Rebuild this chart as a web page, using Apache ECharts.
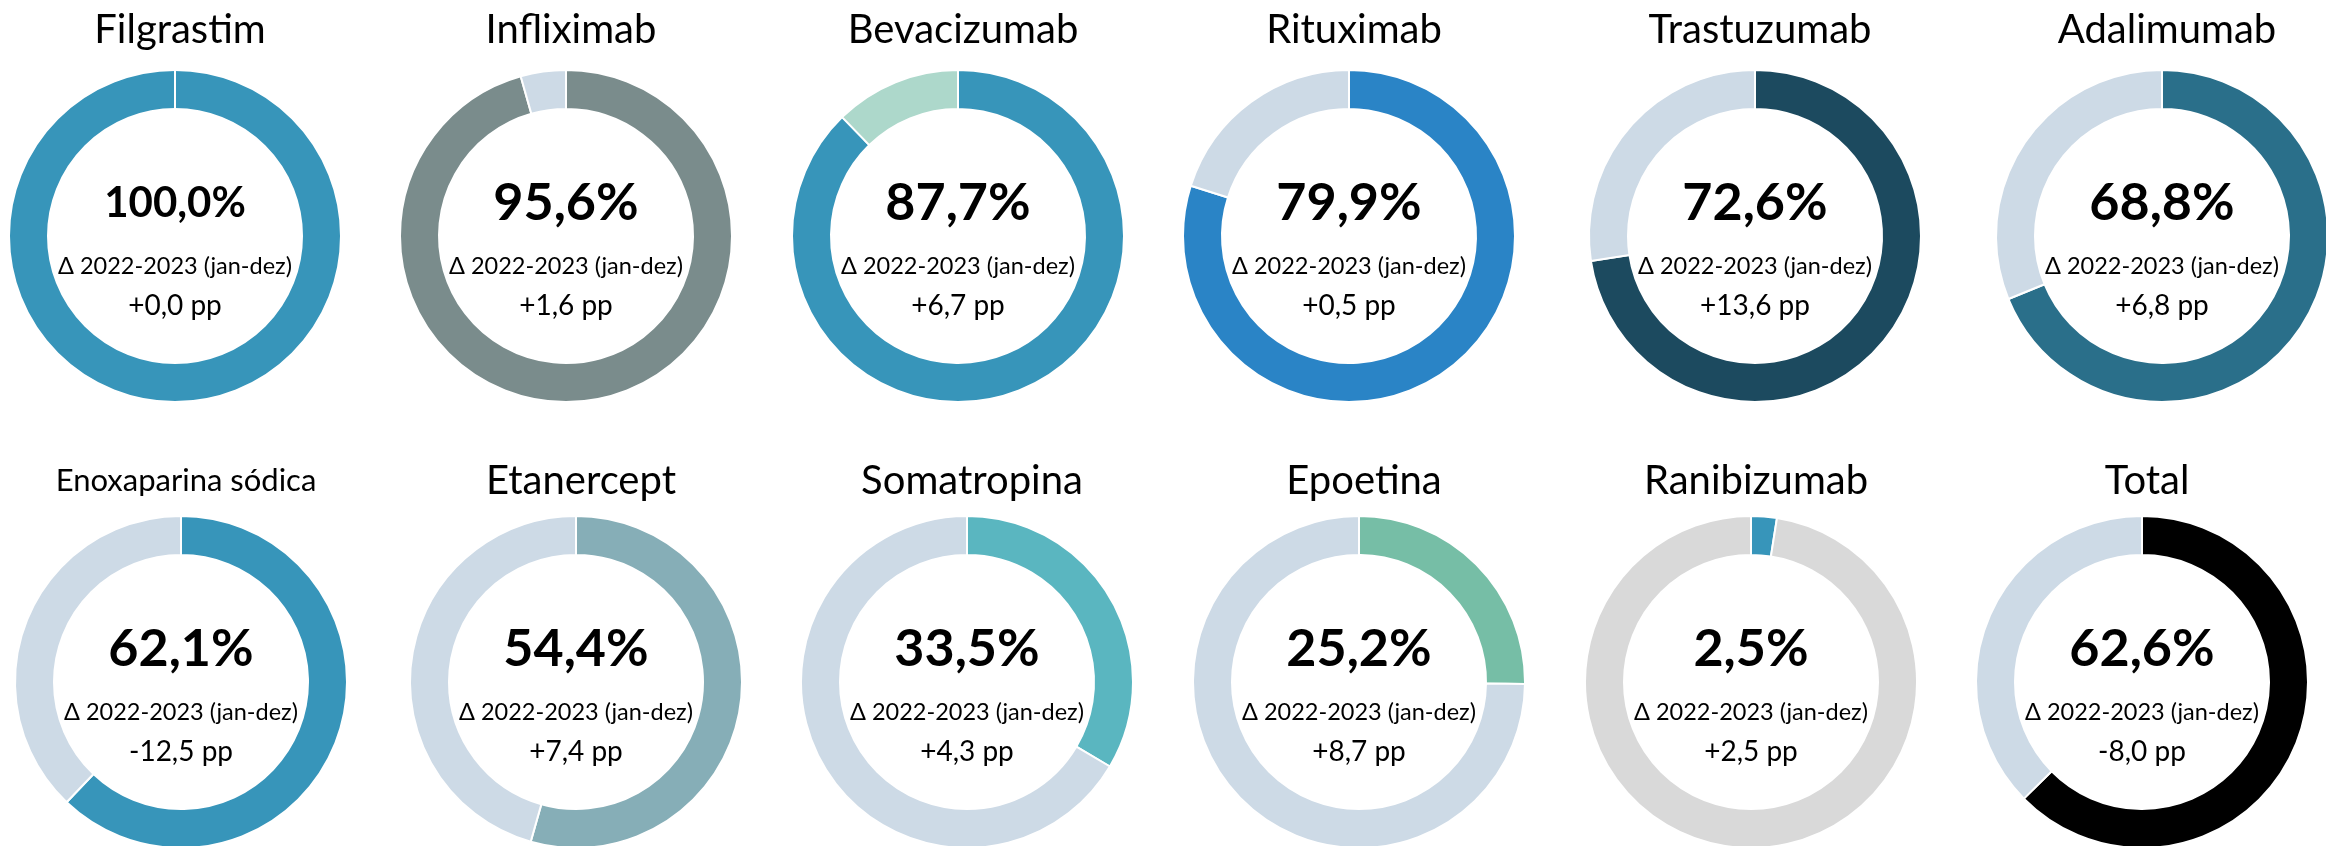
<!DOCTYPE html>
<html>
<head>
<meta charset="utf-8">
<script src="https://cdn.jsdelivr.net/npm/echarts@6/dist/echarts.min.js"></script>
<style>
html, body { margin: 0; padding: 0; background: #fff; }
#chart { width: 2326px; height: 846px; }
</style>
</head>
<body>
<div id="chart"></div>
<script>
// medicamentos e quota (%) em 2023
var names = ['Filgrastim', 'Infliximab', 'Bevacizumab', 'Rituximab', 'Trastuzumab', 'Adalimumab',
             'Enoxaparina sódica', 'Etanercept', 'Somatropina', 'Epoetina', 'Ranibizumab', 'Total'];
var shares = [100.0, 95.6, 87.7, 79.9, 72.6, 68.8, 62.1, 54.4, 33.5, 25.2, 2.5, 62.6];
// variação 2022-2023 em pontos percentuais
var deltas = [0.0, 1.6, 6.7, 0.5, 13.6, 6.8, -12.5, 7.4, 4.3, 8.7, 2.5, -8.0];
var periodLabel = 'Δ 2022-2023 (jan-dez)';

var mainColors = ['#3795ba', '#7a8c8c', '#3795ba', '#2a84c6', '#1c4a5f', '#2a6f8a',
                  '#3795ba', '#86aeb7', '#5ab6c0', '#76bea6', '#3795ba', '#000000'];
var restColors = ['#cddae6', '#cddae6', '#add8cb', '#cddae6', '#cddae6', '#cddae6',
                  '#cddae6', '#cddae6', '#cddae6', '#cddae6', '#d9d9d9', '#cddae6'];

// layout
var centers = [[175, 236], [566, 236], [958, 236], [1349, 236], [1755, 236], [2162, 236],
               [181, 682], [576, 682], [967, 682], [1359, 682], [1751, 682], [2142, 682]];
var font = 'Lato, "Noto Sans", sans-serif';

function pct(v) {
    return v.toFixed(1).replace('.', ',') + '%';
}
function pp(v) {
    return (v < 0 ? '-' : '+') + Math.abs(v).toFixed(1).replace('.', ',') + ' pp';
}

var titles = [];
var series = [];
for (var i = 0; i < names.length; i++) {
    var small = names[i].length > 14;
    titles.push({
        text: names[i],
        left: centers[i][0],
        top: centers[i][1] - (i < 6 ? 231 : 226) + (small ? 4 : 0),
        textAlign: 'center',
        textStyle: {
            fontFamily: font,
            fontWeight: 'normal',
            fontSize: small ? 31 : 40,
            color: '#000'
        }
    });
    series.push({
        type: 'pie',
        center: centers[i],
        radius: [127, 166],
        startAngle: 90,
        clockwise: true,
        silent: true,
        animation: false,
        itemStyle: { borderColor: '#fff', borderWidth: 2 },
        labelLine: { show: false },
        data: [
            {
                value: shares[i],
                name: names[i],
                itemStyle: { color: mainColors[i] },
                label: {
                    show: true,
                    position: 'center',
                    padding: [14, 0, 0, 0],
                    formatter: '{a|' + pct(shares[i]) + '}\n{b|' + periodLabel + '}\n{c|' + pp(deltas[i]) + '}',
                    rich: {
                        a: { fontFamily: font, fontWeight: 'bold', fontSize: shares[i] >= 100 ? 42 : 52, lineHeight: 86, color: '#000' },
                        b: { fontFamily: font, fontSize: 23.5, lineHeight: 40, color: '#000' },
                        c: { fontFamily: font, fontSize: 28, lineHeight: 40, color: '#000' }
                    }
                }
            },
            {
                value: Math.round((100 - shares[i]) * 10) / 10,
                name: 'resto',
                itemStyle: { color: restColors[i] },
                label: { show: false }
            }
        ]
    });
}

var chart = echarts.init(document.getElementById('chart'));
chart.setOption({
    backgroundColor: '#fff',
    title: titles,
    series: series
});
</script>
</body>
</html>
